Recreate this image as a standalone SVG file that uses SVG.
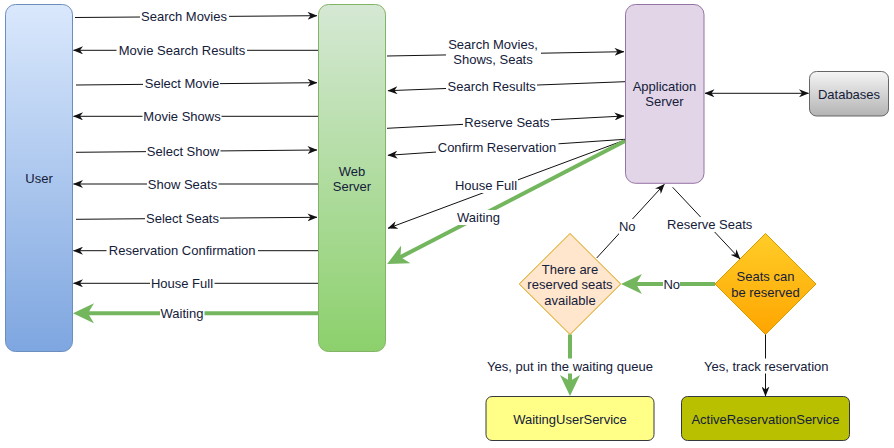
<svg xmlns="http://www.w3.org/2000/svg" width="894" height="448" viewBox="0 0 894 448">
<style>
text{font-family:"Liberation Sans",Arial,sans-serif;font-size:13px;fill:#14203a;text-anchor:middle}
.ln{fill:none;stroke:#111;stroke-width:1;marker-end:url(#ah)}
.gn{fill:none;stroke:#73b65e;stroke-width:4;marker-end:url(#gah)}
.bg{fill:#fff}
</style>
<defs>
<linearGradient id="gUser" x1="0" y1="0" x2="0" y2="1"><stop offset="0" stop-color="#dae8fc"/><stop offset="1" stop-color="#7ea6e0"/></linearGradient>
<linearGradient id="gWeb" x1="0" y1="0" x2="0" y2="1"><stop offset="0" stop-color="#d5e8d4"/><stop offset="1" stop-color="#8cd06c"/></linearGradient>
<linearGradient id="gDb" x1="0" y1="0" x2="0" y2="1"><stop offset="0" stop-color="#f5f5f5"/><stop offset="1" stop-color="#b3b3b3"/></linearGradient>
<linearGradient id="gSeat" x1="0" y1="0" x2="0" y2="1"><stop offset="0" stop-color="#ffcd28"/><stop offset="1" stop-color="#ffa500"/></linearGradient>
<marker id="ah" viewBox="0 0 10 8" refX="9.5" refY="4" markerWidth="10" markerHeight="8" markerUnits="userSpaceOnUse" orient="auto-start-reverse"><path d="M0,0 L10,4 L0,8 L3,4 Z" fill="#111"/></marker>
<marker id="gah" viewBox="0 0 21 20" refX="11" refY="10" markerWidth="21" markerHeight="20" markerUnits="userSpaceOnUse" orient="auto"><path d="M0,0 L21,10 L0,20 L6,10 Z" fill="#73b65e"/></marker>
</defs>

<g id="user"><rect x="5.5" y="4.5" width="67" height="347" rx="10" fill="url(#gUser)" stroke="#6c8ebf"/><text x="39" y="182.7">User</text></g>
<g id="web"><rect x="318.5" y="4.5" width="67" height="347" rx="10" fill="url(#gWeb)" stroke="#82b366"/><text x="352" y="175.7">Web</text><text x="352" y="190.7">Server</text></g>
<g id="app"><rect x="625.5" y="4.5" width="78.5" height="178.8" rx="10" fill="#e1d5e7" stroke="#9673a6"/><text x="664.5" y="91.2">Application</text><text x="664.5" y="106.2">Server</text></g>
<g id="db"><rect x="809.5" y="71.5" width="79" height="44.5" rx="7" fill="url(#gDb)" stroke="#666"/><text x="849" y="98.7">Databases</text></g>
<g id="reservedAvail"><path d="M570,233.5 L620.7,284 L570,334.5 L519.3,284 Z" fill="#ffe6cc" stroke="#d79b00"/><text x="570" y="273.7">There are</text><text x="570" y="289.2">reserved seats</text><text x="570" y="304.9">available</text></g>
<g id="seatsCan"><path d="M765.5,233.5 L816,284 L765.5,334.5 L715,284 Z" fill="url(#gSeat)" stroke="#d79b00"/><text x="765.5" y="281.2">Seats can</text><text x="765.5" y="296.7">be reserved</text></g>
<g id="waitingSvc"><rect x="486" y="396.5" width="168" height="44" rx="6" fill="#ffff88" stroke="#36393d"/><text x="570" y="423.7">WaitingUserService</text></g>
<g id="activeSvc"><rect x="681.5" y="396.5" width="168" height="44" rx="6" fill="#b9c000" stroke="#36393d"/><text x="765.5" y="423.7">ActiveReservationService</text></g>

<g id="connectors">
<path class="ln" d="M75,17.5 L317,15.7"/>
<path class="ln" d="M318,50.3 L73.5,50.3"/>
<path class="ln" d="M76,85 L317,82.7"/>
<path class="ln" d="M318,116.3 L73.5,116.3"/>
<path class="ln" d="M76,152.3 L317,150"/>
<path class="ln" d="M318,184 L73.5,184"/>
<path class="ln" d="M76,219.3 L317,217.3"/>
<path class="ln" d="M318,250.7 L73.5,250.7"/>
<path class="ln" d="M318,283.3 L73.5,283.3"/>
<path class="gn" d="M318,313.3 L83,313.3"/>

<path class="ln" d="M387,56 L624,51.7"/>
<path class="ln" d="M625,81.7 L388,90.7"/>
<path class="ln" d="M387,128.3 L624,116"/>
<path class="ln" d="M625,139.3 L388,155.3"/>
<path class="ln" d="M625,140 L388,228.3"/>
<path class="gn" d="M625,141 L396,259.4"/>

<path class="ln" d="M705,93.3 L808.5,93.3" style="marker-start:url(#ah)"/>

<path class="ln" d="M596.7,258 L664.3,184.3"/>
<path class="ln" d="M672.7,187.3 L740,259"/>
<path class="gn" d="M715,284 L631,284"/>
<path class="gn" d="M570,334.5 L570,386"/>
<path class="ln" d="M765.5,334.5 L765.5,396"/>

<g id="labels">
<rect class="bg" x="140" y="8.5" width="89" height="15"/><text x="184" y="20.7">Search Movies</text>
<rect class="bg" x="116.5" y="43" width="130.5" height="15"/><text x="182" y="54.7">Movie Search Results</text>
<rect class="bg" x="143" y="76.5" width="77" height="15"/><text x="182" y="88.4">Select Movie</text>
<rect class="bg" x="142.5" y="108.5" width="79" height="15"/><text x="182" y="120.7">Movie Shows</text>
<rect class="bg" x="146" y="143.5" width="74.5" height="15"/><text x="183" y="155.7">Select Show</text>
<rect class="bg" x="147" y="176.5" width="71.5" height="15"/><text x="182.5" y="188.5">Show Seats</text>
<rect class="bg" x="145" y="210.5" width="75" height="15"/><text x="182.5" y="222.8">Select Seats</text>
<rect class="bg" x="106.5" y="243" width="151.5" height="15"/><text x="182.2" y="255.2">Reservation Confirmation</text>
<rect class="bg" x="150" y="276" width="64.5" height="15"/><text x="182" y="287.8">House Full</text>
<rect class="bg" x="160" y="305.5" width="44.5" height="15"/><text x="182" y="317.8">Waiting</text>

<rect class="bg" x="446" y="36" width="95" height="31"/><text x="493" y="48.6">Search Movies,</text><text x="493" y="63.9">Shows, Seats</text>
<rect class="bg" x="446" y="78.5" width="91" height="15"/><text x="491.7" y="90.6">Search Results</text>
<rect class="bg" x="463" y="115" width="88" height="15"/><text x="507" y="127.2">Reserve Seats</text>
<rect class="bg" x="436" y="140" width="122.5" height="15"/><text x="497" y="152.2">Confirm Reservation</text>
<rect class="bg" x="454.5" y="178" width="63.5" height="15"/><text x="486" y="189.8">House Full</text>
<rect class="bg" x="456.5" y="210" width="44" height="15"/><text x="478.5" y="222.2">Waiting</text>

<rect class="bg" x="619" y="219" width="17" height="15"/><text x="627.3" y="230.8">No</text>
<rect class="bg" x="666" y="217" width="87.5" height="15"/><text x="709.7" y="228.8">Reserve Seats</text>
<rect class="bg" x="663" y="276.5" width="17" height="15"/><text x="671.7" y="288.6">No</text>
<rect class="bg" x="485" y="358.5" width="170" height="15"/><text x="570" y="370.6">Yes, put in the waiting queue</text>
<rect class="bg" x="702.5" y="358.5" width="127.5" height="15"/><text x="766.3" y="370.6">Yes, track reservation</text>
</g>
</g>
</svg>
